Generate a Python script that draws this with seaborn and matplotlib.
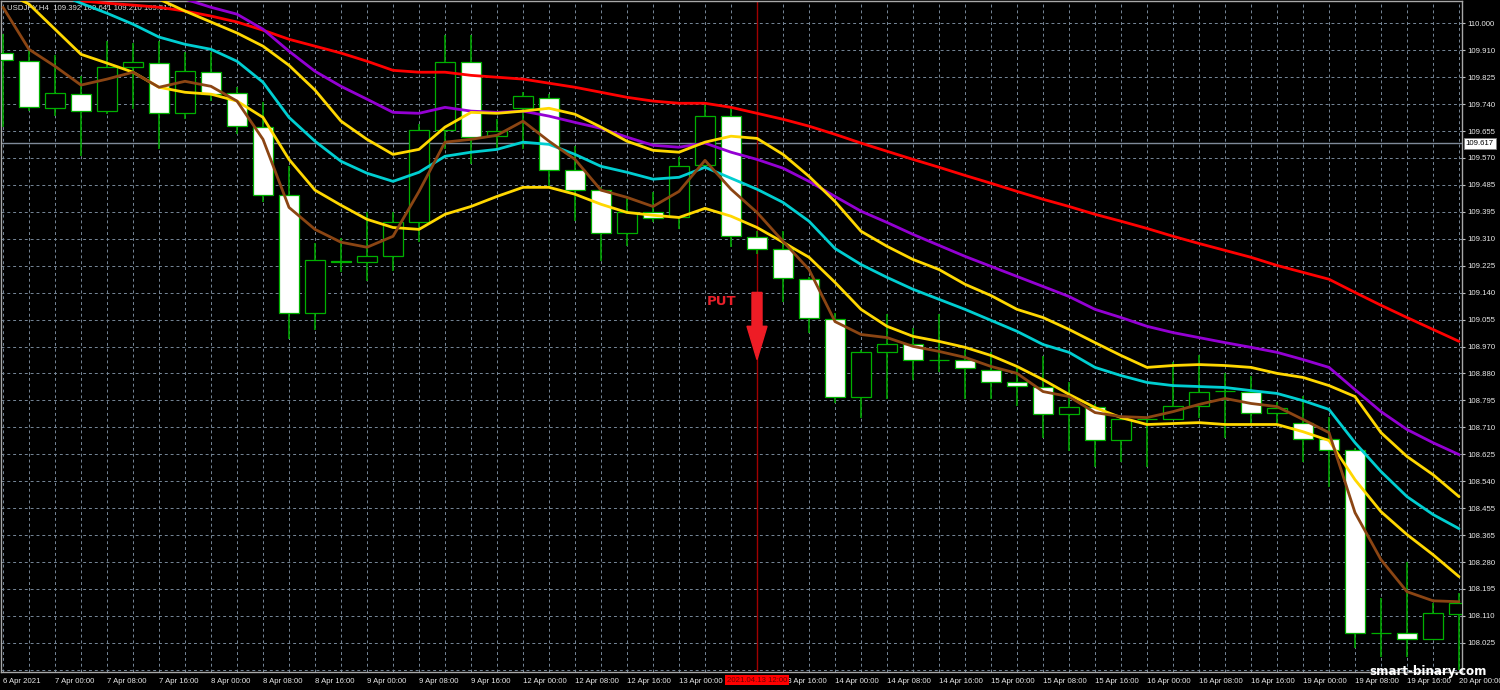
import numpy as np
import pandas as pd
import matplotlib
matplotlib.use("Agg")
import matplotlib.pyplot as plt
import seaborn as sns
from matplotlib.patches import FancyArrow
from matplotlib.transforms import blended_transform_factory

# ---------------- data (USDJPY, H4) ----------------
open_ = [109.905, 109.879, 109.729, 109.774, 109.720, 109.860, 109.873, 109.713, 109.844, 109.777,
         109.669, 109.452, 109.078, 109.243, 109.238, 109.257, 109.365, 109.659, 109.876, 109.640,
         109.729, 109.761, 109.531, 109.468, 109.330, 109.397, 109.381, 109.547, 109.704, 109.318,
         109.282, 109.184, 109.056, 108.810, 108.951, 108.976, 108.928, 108.928, 108.896, 108.858,
         108.842, 108.753, 108.778, 108.673, 108.740, 108.740, 108.781, 108.829, 108.826, 108.759,
         108.727, 108.676, 108.641, 108.057, 108.057, 108.038, 108.118]
high = [109.965, 109.917, 109.898, 109.831, 109.943, 109.937, 109.943, 109.908, 109.908, 109.796,
        109.748, 109.544, 109.298, 109.314, 109.397, 109.397, 109.678, 109.962, 109.962, 109.694,
        109.780, 109.774, 109.608, 109.477, 109.448, 109.461, 109.573, 109.748, 109.732, 109.337,
        109.337, 109.190, 109.078, 108.960, 109.072, 109.030, 109.072, 108.960, 108.951, 108.906,
        108.938, 108.855, 108.785, 108.746, 108.743, 108.919, 108.944, 108.884, 108.874, 108.794,
        108.813, 108.746, 108.647, 108.169, 108.284, 108.153, 108.185]
low = [109.669, 109.720, 109.704, 109.576, 109.710, 109.726, 109.598, 109.694, 109.752, 109.646,
       109.429, 108.992, 109.021, 109.206, 109.177, 109.209, 109.302, 109.598, 109.551, 109.598,
       109.598, 109.477, 109.369, 109.241, 109.289, 109.365, 109.343, 109.535, 109.286, 109.263,
       109.113, 109.014, 108.791, 108.743, 108.801, 108.864, 108.887, 108.801, 108.801, 108.781,
       108.679, 108.635, 108.587, 108.600, 108.587, 108.737, 108.743, 108.679, 108.721, 108.727,
       108.600, 108.523, 108.009, 107.981, 107.981, 108.035, 107.939]
close = [109.882, 109.732, 109.777, 109.720, 109.860, 109.876, 109.713, 109.847, 109.774, 109.672,
         109.452, 109.078, 109.244, 109.239, 109.257, 109.365, 109.659, 109.876, 109.637, 109.656,
         109.767, 109.531, 109.468, 109.330, 109.397, 109.378, 109.544, 109.704, 109.321, 109.282,
         109.187, 109.059, 108.810, 108.951, 108.976, 108.925, 108.928, 108.900, 108.855, 108.845,
         108.753, 108.778, 108.673, 108.740, 108.740, 108.781, 108.826, 108.829, 108.759, 108.772,
         108.676, 108.641, 108.057, 108.057, 108.038, 108.121, 108.153]

ma_red = [110.173, 110.141, 110.103, 110.071, 110.064, 110.058, 110.051, 110.039, 110.023, 110.004,
          109.978, 109.949, 109.927, 109.905, 109.879, 109.850, 109.844, 109.844, 109.834, 109.828,
          109.822, 109.809, 109.796, 109.780, 109.764, 109.752, 109.745, 109.745, 109.732, 109.713,
          109.694, 109.672, 109.646, 109.618, 109.592, 109.566, 109.541, 109.515, 109.490, 109.464,
          109.439, 109.416, 109.391, 109.369, 109.346, 109.321, 109.298, 109.276, 109.254, 109.228,
          109.206, 109.184, 109.142, 109.101, 109.062, 109.024, 108.986]
ma_purple = [110.221, 110.198, 110.173, 110.154, 110.134, 110.115, 110.096, 110.077, 110.051, 110.029,
             109.981, 109.911, 109.847, 109.799, 109.758, 109.716, 109.713, 109.732, 109.720, 109.716,
             109.720, 109.704, 109.684, 109.665, 109.637, 109.611, 109.605, 109.618, 109.589, 109.566,
             109.538, 109.496, 109.448, 109.401, 109.365, 109.327, 109.292, 109.257, 109.225, 109.193,
             109.161, 109.129, 109.088, 109.062, 109.034, 109.014, 108.998, 108.982, 108.967, 108.951,
             108.928, 108.903, 108.832, 108.762, 108.705, 108.663, 108.625]
ma_yellow_up = [110.268, 110.237, 110.205, 110.173, 110.141, 110.109, 110.077, 110.039, 110.004, 109.969,
                109.927, 109.866, 109.787, 109.688, 109.630, 109.582, 109.598, 109.669, 109.716, 109.713,
                109.720, 109.729, 109.710, 109.669, 109.624, 109.595, 109.589, 109.621, 109.640, 109.633,
                109.582, 109.512, 109.432, 109.337, 109.289, 109.247, 109.215, 109.168, 109.132, 109.088,
                109.062, 109.024, 108.982, 108.941, 108.903, 108.909, 108.912, 108.909, 108.903, 108.884,
                108.871, 108.845, 108.810, 108.695, 108.619, 108.561, 108.491]
ma_cyan = [110.173, 110.134, 110.099, 110.064, 110.032, 109.997, 109.956, 109.933, 109.917, 109.879,
           109.812, 109.700, 109.624, 109.560, 109.522, 109.496, 109.525, 109.576, 109.589, 109.598,
           109.621, 109.614, 109.582, 109.544, 109.525, 109.503, 109.509, 109.541, 109.506, 109.471,
           109.429, 109.369, 109.282, 109.231, 109.190, 109.152, 109.120, 109.088, 109.053, 109.018,
           108.976, 108.951, 108.903, 108.877, 108.855, 108.845, 108.842, 108.839, 108.829, 108.820,
           108.797, 108.769, 108.663, 108.571, 108.491, 108.434, 108.389]
ma_yellow_low = [110.103, 110.061, 109.981, 109.901, 109.873, 109.844, 109.796, 109.780, 109.774, 109.752,
                 109.700, 109.566, 109.468, 109.420, 109.375, 109.349, 109.343, 109.391, 109.416, 109.448,
                 109.477, 109.477, 109.455, 109.423, 109.397, 109.388, 109.381, 109.410, 109.385, 109.349,
                 109.302, 109.254, 109.174, 109.088, 109.034, 109.002, 108.986, 108.967, 108.941, 108.906,
                 108.864, 108.817, 108.775, 108.743, 108.721, 108.724, 108.727, 108.721, 108.721, 108.721,
                 108.698, 108.670, 108.545, 108.443, 108.370, 108.306, 108.236]
ma_brown = [110.051, 109.917, 109.863, 109.803, 109.822, 109.844, 109.796, 109.815, 109.799, 109.752,
            109.630, 109.413, 109.343, 109.302, 109.286, 109.321, 109.464, 109.621, 109.630, 109.643,
            109.688, 109.624, 109.566, 109.468, 109.445, 109.416, 109.464, 109.563, 109.471, 109.397,
            109.305, 109.215, 109.049, 109.008, 108.998, 108.970, 108.954, 108.935, 108.906, 108.884,
            108.826, 108.810, 108.759, 108.746, 108.743, 108.762, 108.785, 108.804, 108.788, 108.778,
            108.737, 108.695, 108.440, 108.290, 108.188, 108.159, 108.156]

# every second bar carries a time label; the one under the red signal box is hidden
xtick_labels = ["6 Apr 2021", "7 Apr 00:00", "7 Apr 08:00", "7 Apr 16:00", "8 Apr 00:00",
                "8 Apr 08:00", "8 Apr 16:00", "9 Apr 00:00", "9 Apr 08:00", "9 Apr 16:00",
                "12 Apr 00:00", "12 Apr 08:00", "12 Apr 16:00", "13 Apr 00:00", "",
                "13 Apr 16:00", "14 Apr 00:00", "14 Apr 08:00", "14 Apr 16:00", "15 Apr 00:00",
                "15 Apr 08:00", "15 Apr 16:00", "16 Apr 00:00", "16 Apr 08:00", "16 Apr 16:00",
                "19 Apr 00:00", "19 Apr 08:00", "19 Apr 16:00", "20 Apr 00:00"]
ytick_labels = ["110.000", "109.910", "109.825", "109.740", "109.655", "109.570", "109.485",
                "109.395", "109.310", "109.225", "109.140", "109.055", "108.970", "108.880",
                "108.795", "108.710", "108.625", "108.540", "108.455", "108.365", "108.280",
                "108.195", "108.110", "108.025"]

title_text = "USDJPY,H4  109.392 109.641 109.210 109.617"
last_price = 109.617
signal_bar = 29
signal_label = "2021.04.13 12:00"
put_text = "PUT"
watermark = "smart-binary.com"

# ---------------- style ----------------
sns.set_style("dark", {"axes.facecolor": "black", "figure.facecolor": "black"})
plt.rcParams['font.family'] = ['Liberation Sans', 'DejaVu Sans']

fig = plt.figure(figsize=(15, 6.9), dpi=100)
fig.patch.set_facecolor("black")
ax = fig.add_axes([1 / 1500, 18 / 690, 1461 / 1500, 671 / 690])
ax.set_facecolor("black")

n = len(open_)
bars = np.arange(n)
o = np.array(open_); h = np.array(high); l = np.array(low); c = np.array(close)

green = "#00b000"
# wicks
ax.vlines(bars, l, h, color=green, lw=1.1, zorder=3)
# bodies: bearish white, bullish black, green outline
bear = c < o
body_bottom = np.minimum(o, c)
body_height = np.abs(c - o)
face = np.where(bear, "white", "black")
ax.bar(bars, body_height, bottom=body_bottom, width=0.77, color=face,
       edgecolor=green, linewidth=0.9, zorder=4)

# moving averages through seaborn
ma_df = pd.DataFrame({"bar": bars, "red": ma_red, "purple": ma_purple,
                      "yellow_up": ma_yellow_up, "cyan": ma_cyan,
                      "yellow_low": ma_yellow_low, "brown": ma_brown})
long = ma_df.melt(id_vars="bar", var_name="ma", value_name="price")
palette = {"red": "#ff0000", "purple": "#9400d3", "yellow_up": "#ffd700",
           "cyan": "#00ced1", "yellow_low": "#ffd700", "brown": "#8b4513"}
sns.lineplot(data=long, x="bar", y="price", hue="ma",
             hue_order=["red", "purple", "yellow_up", "cyan", "yellow_low", "brown"],
             palette=palette, estimator=None, sort=False, legend=False,
             linewidth=2.0, ax=ax, zorder=5)

# current price line and signal vertical line
ax.axhline(last_price, color="#7f8a99", lw=1.0, zorder=1.5)
ax.axvline(signal_bar, color="#a00000", lw=1.0, zorder=1.6)

# limits
ax.set_xlim(-0.077, 56.115)
ax.set_ylim(107.932, 110.071)

# ticks and grid
ax.set_xticks(bars[::2])
ax.set_xticklabels(xtick_labels)
ax.set_xticks(bars, minor=True)
for t in ax.get_xticklabels():
    t.set_ha("left")
ypos = np.linspace(float(ytick_labels[0]), float(ytick_labels[-1]), len(ytick_labels))
ax.yaxis.tick_right()
ax.set_yticks(ypos)
ax.set_yticklabels(ytick_labels)
ax.tick_params(axis="both", which="major", labelsize=5.6, labelcolor="#e8e8e8",
               color="#c0c0c0", length=2.5, width=0.8, pad=1.5)
ax.tick_params(axis="x", which="minor", length=0)
ax.tick_params(axis="x", which="major", pad=2.0)
ax.set_axisbelow(True)
gs = dict(color="#778899", linestyle=(0, (3, 3)), linewidth=0.7)
ax.grid(True, which="both", axis="x", **gs)
ax.grid(True, which="major", axis="y", **gs)
# one more horizontal grid row below the last labelled price
ax.axhline(ypos[-1] - (ypos[0] - ypos[1]), zorder=0.5, **gs)
ax.set_xlabel("")
ax.set_ylabel("")
for s in ax.spines.values():
    s.set_visible(True)
    s.set_color("#a8a8a8")
    s.set_linewidth(1.0)

# title text
ax.text(0.004, 0.9896, title_text, transform=ax.transAxes, ha="left", va="center",
        fontsize=5.6, color="#e0e0e0", zorder=1.7)

# current price label on the right axis
tr_y = blended_transform_factory(ax.transAxes, ax.transData)
ax.text(1.0025, last_price, f"{last_price:.3f}", transform=tr_y, ha="left", va="center",
        fontsize=5.6, color="black", zorder=10, clip_on=False,
        bbox=dict(boxstyle="square,pad=0.25", fc="white", ec="#808080", lw=0.6))

# signal time label at the bottom axis
tr_x = blended_transform_factory(ax.transData, ax.transAxes)
ax.annotate(signal_label, xy=(signal_bar, 0), xycoords=tr_x, xytext=(0, -8),
            textcoords="offset pixels", ha="center", va="center", fontsize=5.6,
            color="#6a0000", zorder=12, annotation_clip=False,
            bbox=dict(boxstyle="square,pad=0.25", fc="#ff0000", ec="none"))

# PUT signal: text and arrow
ax.text(27.65, 109.113, put_text, ha="center", va="center", fontsize=9.5,
        fontweight="bold", color="#e8202a", family="DejaVu Sans", zorder=7)
ax.add_patch(FancyArrow(signal_bar, 109.142, 0, -0.214, width=0.385, head_width=0.77,
                        head_length=0.106, length_includes_head=True,
                        color="#ee1c25", zorder=7))

# watermark
fig.text(1428 / 1500, 1 - 671 / 690, watermark, ha="center", va="center",
         fontsize=8.6, fontweight="bold", color="white", family="DejaVu Sans", zorder=20)

fig.savefig("out.png", dpi=100, facecolor="black")
